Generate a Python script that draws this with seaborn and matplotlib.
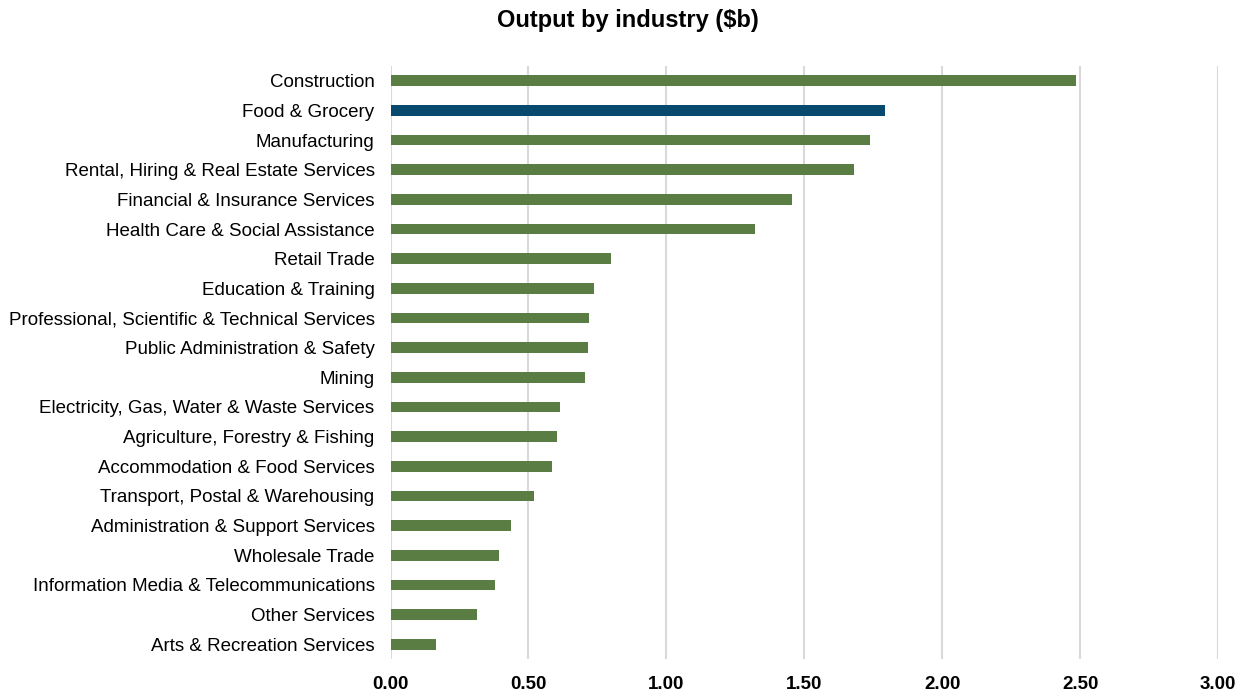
import matplotlib
matplotlib.use("Agg")
import matplotlib.pyplot as plt
import seaborn as sns
import pandas as pd

industries = [
    "Construction",
    "Food & Grocery",
    "Manufacturing",
    "Rental, Hiring & Real Estate Services",
    "Financial & Insurance Services",
    "Health Care & Social Assistance",
    "Retail Trade",
    "Education & Training",
    "Professional, Scientific & Technical Services",
    "Public Administration & Safety",
    "Mining",
    "Electricity, Gas, Water & Waste Services",
    "Agriculture, Forestry & Fishing",
    "Accommodation & Food Services",
    "Transport, Postal & Warehousing",
    "Administration & Support Services",
    "Wholesale Trade",
    "Information Media & Telecommunications",
    "Other Services",
    "Arts & Recreation Services",
]
output_b = [2.485, 1.793, 1.739, 1.679, 1.455, 1.320, 0.800, 0.736, 0.720, 0.717,
            0.705, 0.613, 0.602, 0.585, 0.519, 0.435, 0.393, 0.377, 0.314, 0.164]
highlight = "Food & Grocery"
x_ticks = [0.0, 0.5, 1.0, 1.5, 2.0, 2.5, 3.0]

GREEN = "#5A7D44"
BLUE = "#074A6E"

df = pd.DataFrame({"industry": industries, "output": output_b})
palette = {ind: (BLUE if ind == highlight else GREEN) for ind in industries}

sns.set_theme(style="white")
plt.rcParams["font.family"] = ["Liberation Sans", "DejaVu Sans"]

fig = plt.figure(figsize=(12.48, 6.95), dpi=100)
ax = fig.add_axes([390.5 / 1248, 1 - 659 / 695, (1218.3 - 390.5) / 1248, (659 - 66) / 695])

sns.barplot(data=df, y="industry", x="output", hue="industry", palette=palette,
            order=industries, orient="h", width=0.36, legend=False, ax=ax,
            saturation=1, edgecolor="none")

ax.set_xlim(0, 3.0)
ax.set_ylim(len(industries) - 0.5, -0.5)
ax.set_xticks(x_ticks)
ax.set_xticklabels([f"{t:.2f}" for t in x_ticks], fontsize=13.5, fontweight="bold", color="#000000")
ax.tick_params(axis="y", labelsize=13.5, colors="#000000", length=0, pad=11.5)
ax.tick_params(axis="x", length=0, pad=12)
ax.set_xlabel("")
ax.set_ylabel("")
ax.grid(axis="x", color="#D9D9D9", linewidth=1.5)
ax.set_axisbelow(True)
for s in ax.spines.values():
    s.set_visible(False)

fig.text(627.5 / 1248, 1 - 20 / 695, "Output by industry ($b)", ha="center", va="center",
         fontsize=17, fontweight="bold", color="#000000")

fig.savefig("out.png", dpi=100)
